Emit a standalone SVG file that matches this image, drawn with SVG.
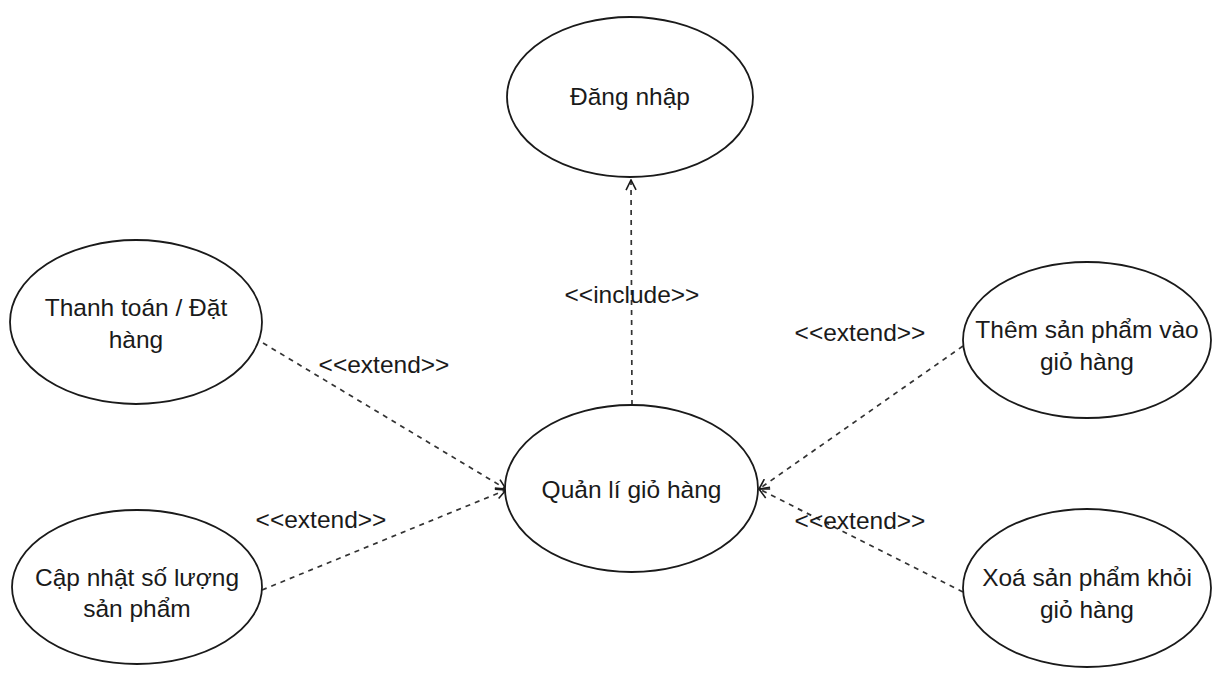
<svg xmlns="http://www.w3.org/2000/svg" width="1212" height="675" viewBox="0 0 1212 675">
  <style>
    .uc ellipse { fill: #ffffff; stroke: #1a1a1a; stroke-width: 1.8; }
    .uc text, .lbl { font-family: "Liberation Sans", Arial, Helvetica, sans-serif; font-size: 24.5px; fill: #1a1a1a; text-anchor: middle; }
    .dep { fill: none; stroke: #333333; stroke-width: 1.7; stroke-dasharray: 5 5; marker-end: url(#open); }
  </style>
  <defs>
    <!-- open (line-only) arrowhead used for include/extend dependencies -->
    <marker id="open" viewBox="0 0 12 12" refX="11" refY="6" markerWidth="12" markerHeight="12" markerUnits="userSpaceOnUse" orient="auto">
      <path d="M1,1 L11,6 L1,11" fill="none" stroke="#1a1a1a" stroke-width="1.6"/>
    </marker>
  </defs>
  <rect width="1212" height="675" fill="#ffffff"/>

  <!-- dependency connectors -->
  <g id="connectors">
    <path class="dep" d="M632,405 L631,180"/>
    <path class="dep" d="M263,343 L506,489"/>
    <path class="dep" d="M262,590 L506,490"/>
    <path class="dep" d="M963,346 L759,489"/>
    <path class="dep" d="M963,592 L759,489"/>
    <text class="lbl" x="632" y="303">&lt;&lt;include&gt;&gt;</text>
    <text class="lbl" x="384" y="373">&lt;&lt;extend&gt;&gt;</text>
    <text class="lbl" x="321" y="528">&lt;&lt;extend&gt;&gt;</text>
    <text class="lbl" x="860" y="341">&lt;&lt;extend&gt;&gt;</text>
    <text class="lbl" x="860" y="529">&lt;&lt;extend&gt;&gt;</text>
  </g>

  <g id="dang-nhap" class="uc">
    <ellipse cx="630" cy="97" rx="123" ry="80"/>
    <text x="630" y="105">Đăng nhập</text>
  </g>

  <g id="thanh-toan" class="uc">
    <ellipse cx="136" cy="322" rx="126" ry="82"/>
    <text x="136" y="316">Thanh toán / Đặt</text>
    <text x="136" y="348">hàng</text>
  </g>

  <g id="cap-nhat" class="uc">
    <ellipse cx="137" cy="587" rx="125" ry="77"/>
    <text x="137" y="586">Cập nhật số lượng</text>
    <text x="137" y="617">sản phẩm</text>
  </g>

  <g id="quan-li" class="uc">
    <ellipse cx="631.5" cy="488.5" rx="126.5" ry="83.5"/>
    <text x="631.5" y="498">Quản lí giỏ hàng</text>
  </g>

  <g id="them-san-pham" class="uc">
    <ellipse cx="1087" cy="340" rx="124" ry="78"/>
    <text x="1087" y="338">Thêm sản phẩm vào</text>
    <text x="1087" y="370">giỏ hàng</text>
  </g>

  <g id="xoa-san-pham" class="uc">
    <ellipse cx="1087" cy="588" rx="124" ry="79"/>
    <text x="1087" y="586">Xoá sản phẩm khỏi</text>
    <text x="1087" y="618">giỏ hàng</text>
  </g>
</svg>
